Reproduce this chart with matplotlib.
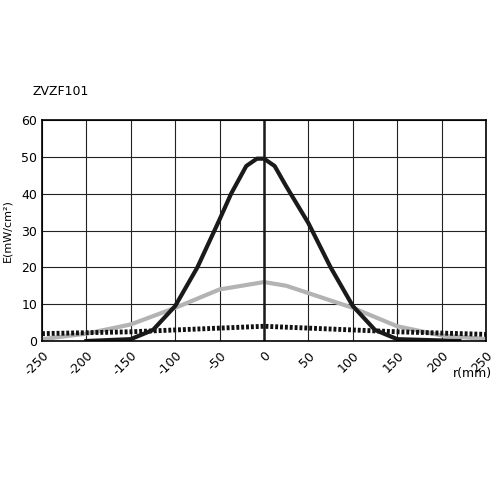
import matplotlib
matplotlib.use('Agg')
from matplotlib import pyplot as plt

# 曲线数据
black_r = [-200, -150, -125, -100, -75, -50, -37, -20, -8, 0, 12, 25, 50, 75, 100, 125, 150, 220]
black_e = [0, 0.5, 3, 9.5, 20, 33, 40, 47.5, 49.5, 49.5, 47.5, 42, 32, 20, 9.5, 3, 0.5, 0]
gray_r = [-250, -200, -150, -100, -50, -25, 0, 25, 50, 100, 150, 200, 250]
gray_e = [0.5, 2, 4.5, 9, 14, 15, 16, 15, 13, 9, 4, 1.5, 0.5]
dot_r = [-250, -150, -100, -50, 0, 50, 100, 150, 250]
dot_e = [2, 2.5, 3, 3.5, 4, 3.5, 3, 2.5, 1.8]
x_ticks = list(range(-250, 251, 50))

fig = plt.figure(figsize=(5, 5), dpi=100)
ax = fig.add_axes([0.084, 0.318, 0.888, 0.442])
ax.plot(gray_r, gray_e, color='#b3b3b3', lw=3)
ax.plot(dot_r, dot_e, color='#111111', lw=3.5, ls=(0, (0.6, 0.4)))
ax.plot(black_r, black_e, color='#1a1a1a', lw=3)
ax.axvline(0, color='#1a1a1a', lw=1.8)
ax.set_xlim(-250, 250)
ax.set_ylim(0, 60)
ax.set_xticks(x_ticks)
ax.set_xticklabels([str(t) for t in x_ticks], rotation=45, ha='right', va='top',
                   rotation_mode='anchor', fontsize=8.5)
ax.set_yticks(range(0, 61, 10))
ax.tick_params(length=0, labelsize=9)
ax.tick_params(axis='x', pad=6)
ax.grid(True, color='#222222', lw=0.8)
for s in ax.spines.values():
    s.set_linewidth(1.2)
ax.set_ylabel('E(mW/cm²)', fontsize=8, labelpad=6)
fig.text(0.065, 0.81, 'ZVZF101', fontsize=9)
fig.text(0.905, 0.245, 'r(mm)', fontsize=9)
plt.savefig('out.png')
